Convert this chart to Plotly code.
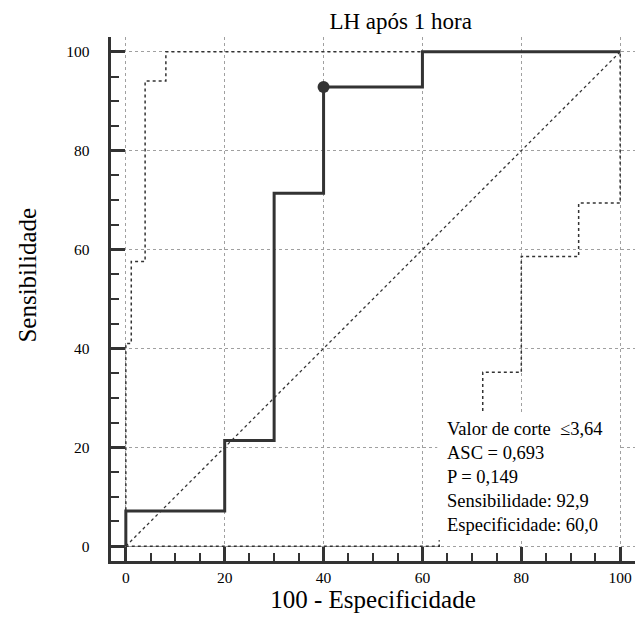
import plotly.graph_objects as go

# ROC curve (100 - specificity, sensitivity)
roc_x = [0, 0, 20, 20, 30, 30, 40, 40, 60, 60, 100]
roc_y = [0, 7.1, 7.1, 21.4, 21.4, 71.4, 71.4, 92.9, 92.9, 100, 100]

# Upper confidence band
up_x = [0, 0, 1.1, 1.1, 3.9, 3.9, 8.1, 8.1, 100]
up_y = [0, 41.0, 41.0, 57.6, 57.6, 94.1, 94.1, 100, 100]

# Lower confidence band (part behind the info box is estimated)
lo_x = [0, 63.4, 63.4, 67.0, 67.0, 72.2, 72.2, 80.0, 80.0, 91.6, 91.6, 100, 100]
lo_y = [0, 0, 5.0, 5.0, 18.0, 18.0, 35.2, 35.2, 58.6, 58.6, 69.4, 69.4, 100]

# Reference diagonal
diag_x = [0, 100]
diag_y = [0, 100]

# Optimal cut-off point
cut_x = [40]
cut_y = [92.9]

title_text = "LH após 1 hora"
x_title = "100 - Especificidade"
y_title = "Sensibilidade"
tick_vals = [0, 20, 40, 60, 80, 100]
info_lines = [
    "Valor de corte  ≤3,64",
    "ASC = 0,693",
    "P = 0,149",
    "Sensibilidade: 92,9",
    "Especificidade: 60,0",
]

FONT = "Liberation Serif, Times New Roman, serif"
DARK = "#333333"

fig = go.Figure()
fig.add_trace(go.Scatter(x=diag_x, y=diag_y, mode="lines",
                         line=dict(color=DARK, width=1.3, dash="dot"),
                         hoverinfo="skip", showlegend=False))
fig.add_trace(go.Scatter(x=up_x, y=up_y, mode="lines",
                         line=dict(color=DARK, width=1.5, dash="dot"),
                         hoverinfo="skip", showlegend=False))
fig.add_trace(go.Scatter(x=lo_x, y=lo_y, mode="lines",
                         line=dict(color=DARK, width=1.5, dash="dot"),
                         hoverinfo="skip", showlegend=False))
fig.add_trace(go.Scatter(x=roc_x, y=roc_y, mode="lines",
                         line=dict(color=DARK, width=3),
                         showlegend=False))
fig.add_trace(go.Scatter(x=cut_x, y=cut_y, mode="markers",
                         marker=dict(color=DARK, size=12),
                         showlegend=False))

# white info panel
fig.add_shape(type="rect", xref="x", yref="y", x0=63.0, x1=99.7, y0=1.2, y1=27.0,
              fillcolor="white", line=dict(width=0), layer="above")
fig.add_annotation(
    x=65.0, y=14.0, xref="x", yref="y", xanchor="left", yanchor="middle",
    text="<br>".join(info_lines), align="left", showarrow=False,
    borderpad=0, borderwidth=0,
    font=dict(family=FONT, size=18.5, color="black"),
)

# y-axis title (rotated text, slightly above the axis centre as in the reference)
fig.add_annotation(
    x=-0.160, y=0.545, xref="paper", yref="paper", xanchor="center", yanchor="middle",
    text=y_title, textangle=-90, showarrow=False,
    font=dict(family=FONT, size=25, color="black"),
)

axis_common = dict(
    range=[-3, 103], tickmode="linear", tick0=tick_vals[0],
    dtick=tick_vals[1] - tick_vals[0], showgrid=True,
    gridcolor="#a0a0a0", griddash="dot", gridwidth=1,
    zeroline=False, showline=True, linecolor=DARK, linewidth=3,
    ticks="inside", ticklen=14, tickwidth=3, tickcolor=DARK,
    tickfont=dict(family=FONT, size=15.5, color="black"),
    minor=dict(dtick=5, ticks="inside", ticklen=8, tickwidth=1.5,
               tickcolor=DARK, showgrid=False),
    fixedrange=True,
)

fig.update_xaxes(**axis_common,
                 title=dict(text=x_title, font=dict(family=FONT, size=25, color="black"),
                            standoff=6))
fig.update_yaxes(**axis_common, ticksuffix="\u2002\u2002")

fig.update_layout(
    width=638, height=628,
    margin=dict(l=111, r=3, t=37, b=67),
    paper_bgcolor="white", plot_bgcolor="white",
    title=dict(text=title_text, x=0.628, xref="container", xanchor="center",
               y=0.966, yref="container", yanchor="middle",
               font=dict(family=FONT, size=23, color="black")),
    font=dict(family=FONT),
)

fig.write_html("out.html")
